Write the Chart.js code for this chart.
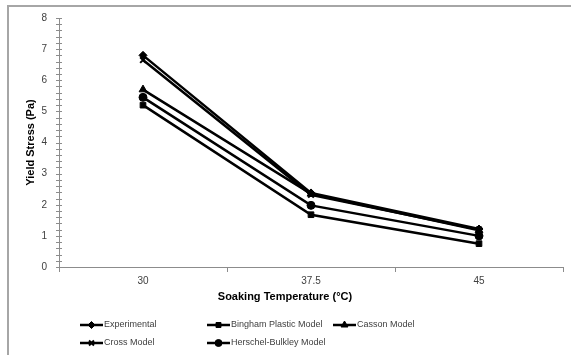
<!DOCTYPE html>
<html lang="en">
<head>
  <meta charset="UTF-8">
  <title>Yield Stress vs Soaking Temperature</title>
  <script src="https://cdn.jsdelivr.net/npm/chart.js"></script>
  <style>
    body {
      margin: 0;
      padding: 0;
      background-color: white;
    }
    .chart-container {
      position: relative;
      width: 571px;
      height: 355px;
    }
  </style>
</head>
<body>
  <div class="chart-container">
    <canvas id="yieldChart" width="571" height="355"></canvas>
  </div>

  <script>
    // Data
    const temperatures = ['30', '37.5', '45'];
    const experimental = [6.8, 2.38, 1.22];
    const bingham = [5.2, 1.68, 0.75];
    const casson = [5.7, 2.35, 1.18];
    const cross = [6.65, 2.32, 1.2];
    const herschel = [5.45, 1.98, 1.0];

    const seriesNames = ['Experimental', 'Bingham Plastic Model', 'Casson Model', 'Cross Model', 'Herschel-Bulkley Model'];
    const seriesValues = [experimental, bingham, casson, cross, herschel];
    const markers = ['rectRot', 'rect', 'triangle', 'crossRot', 'circle'];
    const markerSizes = [4, 4, 4.5, 4, 4];

    const xTitle = 'Soaking Temperature (°C)';
    const yTitle = 'Yield Stress (Pa)';

    // legend slots: [x, y] for each series
    const legendSlots = [[80, 325], [207, 325], [333, 325], [80, 343], [207, 343]];

    const axisColor = '#8c8c8c';
    const textColor = '#404040';
    const fontFamily = '"Liberation Sans", Arial, sans-serif';

    const datasets = seriesNames.map((name, i) => ({
      label: name,
      data: seriesValues[i],
      borderColor: '#000',
      backgroundColor: '#000',
      borderWidth: 2.5,
      pointStyle: markers[i],
      pointRadius: markerSizes[i],
      pointBorderWidth: markers[i] === 'crossRot' ? 2 : 1,
      tension: 0
    }));

    // frame, minor y ticks, x title and the legend
    const extras = {
      id: 'extras',
      beforeDraw(chart) {
        const ctx = chart.ctx;
        ctx.save();
        ctx.fillStyle = 'white';
        ctx.fillRect(0, 0, chart.width, chart.height);
        ctx.strokeStyle = '#a6a6a6';
        ctx.lineWidth = 2;
        ctx.beginPath();
        ctx.moveTo(8, chart.height);
        ctx.lineTo(8, 6);
        ctx.lineTo(chart.width, 6);
        ctx.stroke();
        ctx.restore();
      },
      afterDraw(chart) {
        const ctx = chart.ctx;
        const y = chart.scales.y;
        ctx.save();
        ctx.strokeStyle = axisColor;
        ctx.lineWidth = 1;
        y.ticks.forEach(t => {
          const py = Math.round(y.getPixelForValue(t.value)) + 0.5;
          ctx.beginPath();
          ctx.moveTo(y.right - 3, py);
          ctx.lineTo(y.right + 3, py);
          ctx.stroke();
        });

        // x axis title, centred on the whole frame like the original
        ctx.font = 'bold 11px ' + fontFamily;
        ctx.textAlign = 'center';
        ctx.textBaseline = 'middle';
        ctx.fillStyle = '#000';
        ctx.fillText(xTitle, 285, 297);

        // legend
        ctx.textAlign = 'left';
        ctx.font = '9px ' + fontFamily;
        chart.data.datasets.forEach((ds, i) => {
          const [lx, ly] = legendSlots[i];
          ctx.strokeStyle = '#000';
          ctx.lineWidth = 2.5;
          ctx.beginPath();
          ctx.moveTo(lx, ly);
          ctx.lineTo(lx + 23, ly);
          ctx.stroke();
          ctx.fillStyle = '#000';
          ctx.lineWidth = ds.pointBorderWidth;
          Chart.helpers.drawPoint(ctx, {
            pointStyle: ds.pointStyle,
            radius: ds.pointRadius - 0.5,
            rotation: 0,
            borderWidth: ds.pointBorderWidth
          }, lx + 11.5, ly);
          ctx.fillStyle = textColor;
          ctx.fillText(ds.label, lx + 24, ly);
        });
        ctx.restore();
      }
    };

    new Chart(document.getElementById('yieldChart'), {
      type: 'line',
      data: {
        labels: temperatures,
        datasets: datasets
      },
      options: {
        responsive: false,
        animation: false,
        layout: {
          padding: { left: 0, right: 8, top: 17, bottom: 0 }
        },
        plugins: {
          legend: { display: false },
          tooltip: { enabled: false }
        },
        scales: {
          x: {
            offset: true,
            grid: {
              offset: true,
              drawOnChartArea: false,
              drawTicks: true,
              tickLength: 5,
              color: axisColor
            },
            border: { color: axisColor, width: 1 },
            ticks: {
              padding: 3,
              color: textColor,
              font: { family: fontFamily, size: 10 }
            },
            afterFit(scale) { scale.height = 88; }
          },
          y: {
            min: 0,
            max: 8,
            grid: {
              drawOnChartArea: false,
              drawTicks: false,
              color: axisColor
            },
            border: { color: axisColor, width: 1 },
            ticks: {
              stepSize: 0.2,
              autoSkip: false,
              padding: 12,
              color: textColor,
              font: { family: fontFamily, size: 10 },
              callback: (v) => Math.abs(v - Math.round(v)) < 1e-6 ? String(Math.round(v)) : ''
            },
            title: {
              display: true,
              text: yTitle,
              color: '#000',
              font: { family: fontFamily, size: 11, weight: 'bold' },
              padding: { top: 24, bottom: 0 }
            },
            afterFit(scale) { scale.width = 59; }
          }
        }
      },
      plugins: [extras]
    });
  </script>
</body>
</html>
